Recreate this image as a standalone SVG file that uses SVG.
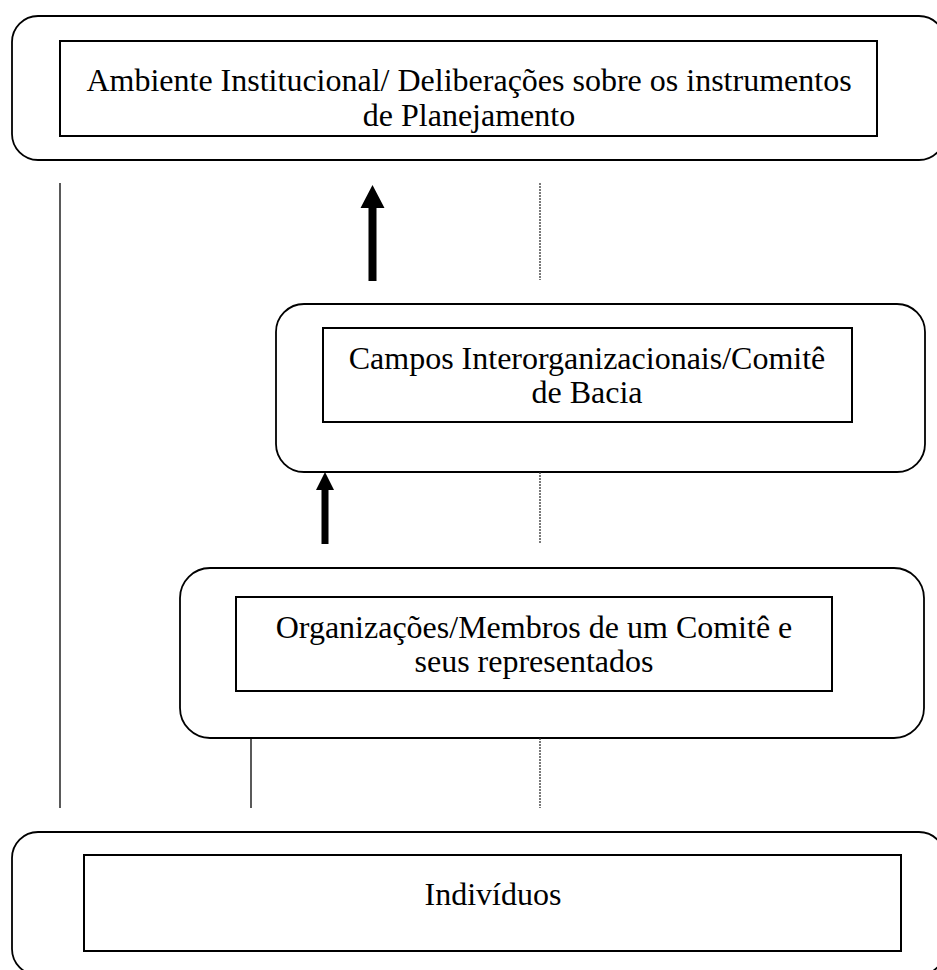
<svg xmlns="http://www.w3.org/2000/svg" width="937" height="970" viewBox="0 0 937 970">
<style>
.outer{fill:none;stroke:#000;stroke-width:1.8}
.inner{fill:#fff;stroke:#000;stroke-width:2}
.t{font-family:"Liberation Serif","Times New Roman",serif;font-size:32px;fill:#000;text-anchor:middle}
.solid{stroke:#000;stroke-width:1.3;fill:none}
.dot{stroke:#333;stroke-width:1.3;stroke-dasharray:2 1;fill:none}
.arr{fill:#000;stroke:none}
</style>
<rect width="937" height="970" fill="#fff"/>
<g id="ambiente">
<rect class="outer" x="12" y="16" width="933" height="144" rx="26" ry="26"/>
<rect class="inner" x="60" y="41" width="817" height="95"/>
<text class="t" x="469" y="91">Ambiente Institucional/ Deliberações sobre os instrumentos</text>
<text class="t" x="469" y="126">de Planejamento</text>
</g>
<g id="campos">
<rect class="outer" x="276" y="304" width="649" height="168" rx="28" ry="28"/>
<rect class="inner" x="323" y="328" width="529" height="94"/>
<text class="t" x="587" y="369">Campos Interorganizacionais/Comitê</text>
<text class="t" x="587" y="403">de Bacia</text>
</g>
<g id="organizacoes">
<rect class="outer" x="180" y="568" width="744" height="170" rx="30" ry="30"/>
<rect class="inner" x="236" y="597" width="596" height="94"/>
<text class="t" x="534" y="638">Organizações/Membros de um Comitê e</text>
<text class="t" x="534" y="672">seus representados</text>
</g>
<g id="individuos">
<rect class="outer" x="12" y="832" width="933" height="143" rx="26" ry="26"/>
<rect class="inner" x="84" y="855" width="817" height="96"/>
<text class="t" x="493" y="905">Indivíduos</text>
</g>
<g id="connectors">
<line class="solid" x1="60" y1="183" x2="60" y2="808"/>
<line class="solid" x1="251" y1="738" x2="251" y2="808"/>
<line class="dot" x1="540" y1="183" x2="540" y2="280"/>
<line class="dot" x1="540" y1="472" x2="540" y2="543"/>
<line class="dot" x1="540" y1="738" x2="540" y2="808"/>
<path class="arr" d="M368.5,281 L376.5,281 L376.5,208 L384.5,208 L372.5,185 L360.5,208 L368.5,208 Z"/>
<path class="arr" d="M321.5,544 L328.5,544 L328.5,490 L334,490 L325,472 L316,490 L321.5,490 Z"/>
</g>
</svg>
